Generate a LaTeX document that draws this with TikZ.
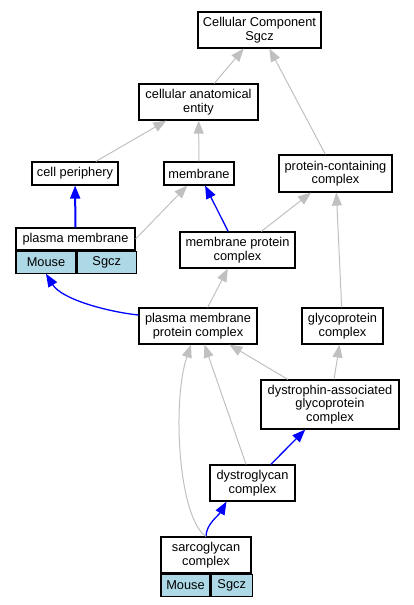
\documentclass[tikz,border=0pt]{standalone}
\usepackage{fontspec}
\setmainfont{Liberation Sans}
\usetikzlibrary{arrows.meta,positioning}
\definecolor{edgegray}{HTML}{C0C0C0}
\definecolor{cellblue}{HTML}{ADD8E6}
\tikzset{
    box/.style =    {rectangle,
                    fill=white,
                    draw=black,
                    text=black,
                    line width=1.2pt,
                    align=center,
                    inner sep=0pt,
                    minimum height=36pt,
                    font=\fontsize{12.8pt}{13.4pt}\selectfont},
    cell/.style =   {box,
                    fill=cellblue,
                    minimum height=22pt,
                    anchor=north west},
    isa/.style =    {draw=edgegray,
                    line width=1pt},
    part/.style =   {draw=blue,
                    line width=1.3pt},
    >={Triangle[length=13pt,width=10pt]}}

\begin{document}
\begin{tikzpicture}
                    \useasboundingbox (0,0) rectangle (413pt,-605pt);
                    \node[box,minimum width=123pt]  (cc) at (259.5pt,-30pt)   {Cellular Component\\Sgcz};
                    \node[box,minimum width=119pt]  (cae)  [below of=cc,node distance=72pt,xshift=-61pt]      {cellular anatomical\\entity};
                    \node[box,minimum width=70pt,minimum height=23pt]   (mem)  [below of=cae,node distance=71.5pt,xshift=0.5pt]  {membrane};
                    \node[box,minimum width=86pt,minimum height=23pt]   (cp)   [left of=mem,node distance=124pt]        {cell periphery};
                    \node[box,minimum width=113pt,minimum height=37pt]  (pcc)  [right of=mem,node distance=136.5pt]     {protein-containing\\complex};
                    \node[box,minimum width=119pt,minimum height=22pt]  (pm)   [below of=cp,node distance=65.5pt,xshift=0.5pt]   {plasma membrane};
                    \node[cell,minimum width=60pt]  (pmMouse) at (pm.south west)     {Mouse};
                    \node[cell,minimum width=59pt]  (pmSgcz)  at (pmMouse.north east) {Sgcz};
                    \node[box,minimum width=115pt]  (mpc)  [below of=mem,node distance=76.5pt,xshift=38.5pt]   {membrane protein\\complex};
                    \node[box,minimum width=118pt]  (pmpc) [below of=mpc,node distance=76pt,xshift=-39.5pt]    {plasma membrane\\protein complex};
                    \node[box,minimum width=81pt]   (gc)   [right of=pmpc,node distance=144.5pt]    {glycoprotein\\complex};
                    \node[box,minimum width=138pt,minimum height=49pt]  (dagc) [below of=gc,node distance=78.5pt,xshift=-12.5pt]   {dystrophin-associated\\glycoprotein\\complex};
                    \node[box,minimum width=85pt]   (dgc)  [below of=dagc,node distance=78.5pt,xshift=-77.5pt] {dystroglycan\\complex};
                    \node[box,minimum width=90pt]   (sgc)  [below of=dgc,node distance=72pt,xshift=-46.5pt]    {sarcoglycan\\complex};
                    \node[cell,minimum width=49pt]  (sgcMouse) at (sgc.south west)     {Mouse};
                    \node[cell,minimum width=41pt]  (sgcSgcz)  at (sgcMouse.north east) {Sgcz};

                    \path [->]  (cae) edge [isa]    (cc)
                                (pcc) edge [isa]    (cc)
                                (cp) edge [isa]     (cae)
                                (mem) edge [isa]    (cae)
                                (pm) edge [part,line width=2pt] (cp)
                                (pm.east) edge [isa] (mem)
                                (mpc) edge [part]   (mem)
                                (mpc) edge [isa]    (pcc)
                                (pmpc) edge [isa]   (mpc)
                                (gc) edge [isa]     (pcc)
                                (dagc) edge [isa]   (pmpc)
                                (dagc) edge [isa]   (gc)
                                (dgc) edge [part]   (dagc)
                                (dgc) edge [isa]    (pmpc);
                    % curved ones
                    \draw [->,part] ([yshift=11pt]pmpc.west) .. controls +(-29pt,3pt) and +(16pt,-26pt) .. (pmMouse.south);
                    \draw [->,part] (sgc.north) .. controls +(0pt,12pt) and +(-8pt,-14pt) .. ([xshift=-26pt]dgc.south);
                    \draw [->,isa]  (sgc.north) .. controls +(-28pt,19pt) and +(-19pt,-56pt) .. ([xshift=-7pt]pmpc.south);
        \end{tikzpicture}
\end{document}
